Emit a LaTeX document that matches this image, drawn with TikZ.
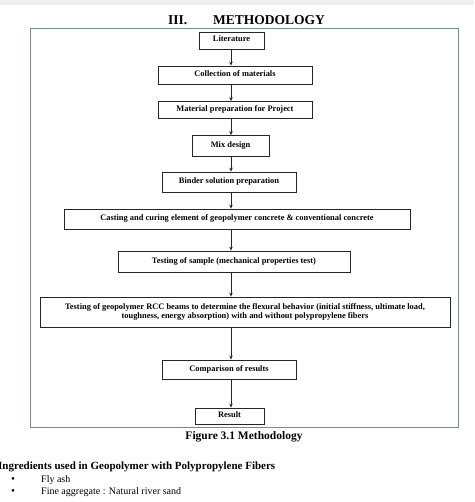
\documentclass[tikz,border=0pt]{standalone}
\usepackage{fontspec}
\setmainfont{Liberation Serif}
\usetikzlibrary{arrows.meta}
\definecolor{framec}{RGB}{110,140,150}
\definecolor{topgray}{RGB}{238,238,238}
\tikzset{
  stepbox/.style={draw=black!85, line width=0.8pt, inner sep=0pt, align=center,
    text height=6pt, text depth=3pt,
    font=\fontsize{8.4}{9.5}\selectfont\bfseries},
  arr/.style={-{Stealth[length=4pt,width=3.5pt]}, line width=0.8pt, black!85},
}
\begin{document}
\begin{tikzpicture}[x=1pt,y=-1pt]
\useasboundingbox (0,0) rectangle (474,502);
\fill[white] (0,0) rectangle (474,502);
\fill[topgray] (0,0) rectangle (474,5);
% title
\node[anchor=base west, font=\fontsize{13.5}{15}\selectfont\bfseries, inner sep=0pt] (tnum) at (168,25) {III.};
\node[anchor=base west, font=\fontsize{13.5}{15}\selectfont\bfseries, inner sep=0pt] (ttl) at (213,25) {METHODOLOGY};
% frame
\draw[framec, line width=1pt] (30,29) rectangle (458,427);
% boxes
\node[stepbox, minimum width=65pt, minimum height=17pt] (lit) at (231.5,40.5) {Literature};
\node[stepbox, minimum width=154pt, minimum height=18pt] (coll) at (235,75) {Collection of materials};
\node[stepbox, minimum width=154pt, minimum height=17pt] (mat) at (235,110) {Material preparation for Project};
\node[stepbox, minimum width=77pt, minimum height=21pt] (mix) at (230.5,146) {Mix design};
\node[stepbox, minimum width=134pt, minimum height=20pt] (bind) at (229,182) {Binder solution preparation};
\node[stepbox, minimum width=346pt, minimum height=20pt] (cast) at (237,219) {Casting and curing element of geopolymer concrete \& conventional concrete};
\node[stepbox, minimum width=232pt, minimum height=21pt] (test) at (234,261.5) {Testing of sample (mechanical properties test)};
\node[stepbox, minimum width=410pt, minimum height=30pt, text height=, text depth=] (rcc) at (245,312) {Testing of geopolymer RCC beams to determine the flexural behavior (initial stiffness, ultimate load,\\ toughness, energy absorption) with and without polypropylene fibers};
\node[stepbox, minimum width=134pt, minimum height=19pt] (comp) at (229,369.5) {Comparison of results};
\node[stepbox, minimum width=69pt, minimum height=16pt] (res) at (229.5,416) {Result};
% arrows
\coordinate (ax) at (231,0);
\draw[arr] (lit.south -| ax) -- (coll.north -| ax);
\draw[arr] (coll.south -| ax) -- (mat.north -| ax);
\draw[arr] (mat.south -| ax) -- (mix.north -| ax);
\draw[arr] (mix.south -| ax) -- (bind.north -| ax);
\draw[arr] (bind.south -| ax) -- (cast.north -| ax);
\draw[arr] (cast.south -| ax) -- (test.north -| ax);
\draw[arr] (test.south -| ax) -- (rcc.north -| ax);
\draw[arr] (rcc.south -| ax) -- (comp.north -| ax);
\draw[arr] (comp.south -| ax) -- (res.north -| ax);
% caption
\node[font=\fontsize{11.5}{13}\selectfont\bfseries, inner sep=0pt] (cap) at (244,437) {Figure 3.1 Methodology};
% text below
\node[anchor=base west, font=\fontsize{11}{13}\selectfont\bfseries, inner sep=0pt] (ing) at (-2,469) {Ingredients used in Geopolymer with Polypropylene Fibers};
\node[anchor=base west, font=\fontsize{11}{12}\selectfont, inner sep=0pt] (b1) at (11,482) {•};
\node[anchor=base west, font=\fontsize{10}{12}\selectfont, inner sep=0pt] (fly) at (41,482) {Fly ash};
\node[anchor=base west, font=\fontsize{11}{12}\selectfont, inner sep=0pt] (b2) at (11,494) {•};
\node[anchor=base west, font=\fontsize{10}{12}\selectfont, inner sep=0pt] (fine) at (41,494) {Fine aggregate : Natural river sand};
\end{tikzpicture}
\end{document}
